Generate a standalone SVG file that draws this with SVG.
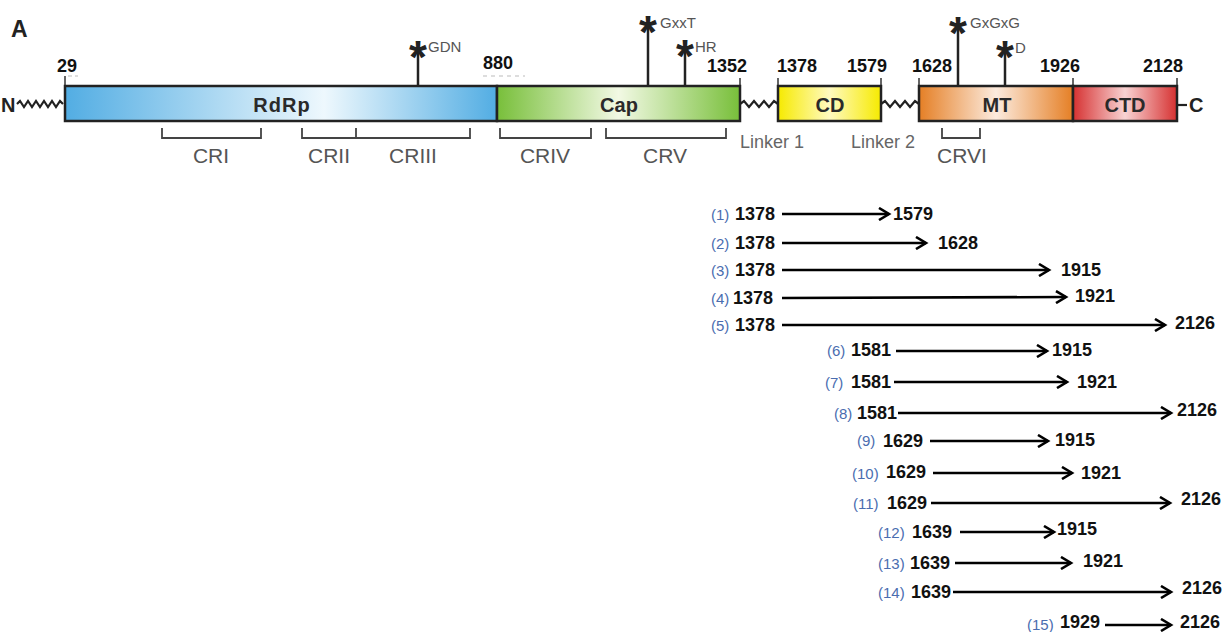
<svg xmlns="http://www.w3.org/2000/svg" width="1228" height="632" viewBox="0 0 1228 632">
<style>
.num{font-family:"Liberation Sans",Arial,sans-serif;font-weight:bold;font-size:18px;fill:#111}
.lab{font-family:"Liberation Sans",Arial,sans-serif;font-size:15px;fill:#4a6db0}
.dom{font-family:"Liberation Sans",Arial,sans-serif;font-weight:bold;font-size:20px;fill:#2a2a2a;text-anchor:middle}
.cr{font-family:"Liberation Sans",Arial,sans-serif;font-size:21px;fill:#555;text-anchor:middle}
.lk{font-family:"Liberation Sans",Arial,sans-serif;font-size:18px;fill:#666}
.mot{font-family:"Liberation Sans",Arial,sans-serif;font-size:15px;fill:#555}
.star{font-family:"Liberation Sans",Arial,sans-serif;font-weight:bold;font-size:46px;fill:#222;text-anchor:middle}
.box{stroke:#222;stroke-width:2.5}
.stem{stroke:#222;stroke-width:2.5}
.tick{stroke:#333;stroke-width:1.5}
.br{fill:none;stroke:#444;stroke-width:1.8}
.zz{fill:none;stroke:#222;stroke-width:2.2}
.arr{stroke:#000;stroke-width:2.6;marker-end:url(#ah)}
</style>
<defs>
<linearGradient id="gR" x1="0" x2="1" y1="0" y2="0"><stop offset="0" stop-color="#52ade3"/><stop offset="0.6" stop-color="#eef8fd"/><stop offset="1" stop-color="#52ade3"/></linearGradient>
<linearGradient id="gC" x1="0" x2="1" y1="0" y2="0"><stop offset="0" stop-color="#78bf3a"/><stop offset="0.5" stop-color="#f2f9e4"/><stop offset="1" stop-color="#78bf3a"/></linearGradient>
<linearGradient id="gD" x1="0" x2="1" y1="0" y2="0"><stop offset="0" stop-color="#f6ea00"/><stop offset="0.5" stop-color="#fffac0"/><stop offset="1" stop-color="#f6ea00"/></linearGradient>
<linearGradient id="gM" x1="0" x2="1" y1="0" y2="0"><stop offset="0" stop-color="#e57f25"/><stop offset="0.5" stop-color="#fcebde"/><stop offset="1" stop-color="#e57f25"/></linearGradient>
<linearGradient id="gT" x1="0" x2="1" y1="0" y2="0"><stop offset="0" stop-color="#d63131"/><stop offset="0.5" stop-color="#f8d3d3"/><stop offset="1" stop-color="#d63131"/></linearGradient>
<marker id="ah" viewBox="0 0 14 14" refX="11" refY="7" markerWidth="14" markerHeight="14" markerUnits="userSpaceOnUse" orient="auto"><path d="M1,1 L11,7 L1,13" fill="none" stroke="#000" stroke-width="2.6"/></marker>
</defs>
<rect width="1228" height="632" fill="#fff"/>
<text x="11" y="37" font-family="Liberation Sans,Arial,sans-serif" font-weight="bold" font-size="23" fill="#222">A</text>
<g id="protein">
<text x="1" y="112" font-family="Liberation Sans,Arial,sans-serif" font-weight="bold" font-size="20" fill="#222">N</text>
<path class="zz" d="M17,104 l3,-3 l4,6 l4,-6 l4,6 l4,-6 l4,6 l4,-6 l4,6 l4,-6 l4,6 l4,-6 l3,3"/>
<path class="zz" d="M740,104 l4,-3 l5,6 l5,-6 l5,6 l5,-6 l5,6 l5,-6 l4,3"/>
<path class="zz" d="M881,104 l4,-3 l5,6 l5,-6 l5,6 l5,-6 l5,6 l5,-6 l4,3"/>
<line x1="1177" y1="105" x2="1187" y2="105" stroke="#222" stroke-width="2.2"/>
<text x="1189" y="112" font-family="Liberation Sans,Arial,sans-serif" font-weight="bold" font-size="20" fill="#222">C</text>
<g class="ticks">
<line class="tick" x1="65" y1="76" x2="65" y2="86"/>
<line x1="68" y1="76" x2="78" y2="76" stroke="#bbb" stroke-width="1" stroke-dasharray="4,3"/>
<line x1="483" y1="76" x2="525" y2="76" stroke="#bbb" stroke-width="1" stroke-dasharray="4,4"/>
<line class="tick" x1="740" y1="78" x2="740" y2="86"/>
<line class="tick" x1="778" y1="78" x2="778" y2="86"/>
<line class="tick" x1="881" y1="78" x2="881" y2="86"/>
<line class="tick" x1="919" y1="78" x2="919" y2="86"/>
<line class="tick" x1="1073" y1="78" x2="1073" y2="86"/>
<line class="tick" x1="1177" y1="78" x2="1177" y2="86"/>
</g>
<g id="positions" class="num" text-anchor="middle">
<text x="67" y="72">29</text>
<text x="498" y="69">880</text>
<text x="727" y="72">1352</text>
<text x="797" y="72">1378</text>
<text x="867" y="72">1579</text>
<text x="932" y="72">1628</text>
<text x="1060" y="72">1926</text>
<text x="1163" y="72">2128</text>
</g>
<g id="motifs">
<line class="stem" x1="418" y1="86" x2="418" y2="50"/>
<text class="star" x="418" y="73">*</text>
<text class="mot" x="428" y="52">GDN</text>
<line class="stem" x1="648" y1="86" x2="648" y2="25"/>
<text class="star" x="648" y="48">*</text>
<text class="mot" x="660" y="28">GxxT</text>
<line class="stem" x1="685" y1="86" x2="685" y2="49"/>
<text class="star" x="685" y="72">*</text>
<text class="mot" x="695" y="52">HR</text>
<line class="stem" x1="958" y1="86" x2="958" y2="26"/>
<text class="star" x="958" y="49">*</text>
<text class="mot" x="970" y="28">GxGxG</text>
<line class="stem" x1="1005" y1="86" x2="1005" y2="50"/>
<text class="star" x="1005" y="73">*</text>
<text class="mot" x="1015" y="53">D</text>
</g>
<g id="RdRp"><rect class="box" x="65" y="86" width="432" height="35" fill="url(#gR)"/><text class="dom" x="282" y="112" letter-spacing="1">RdRp</text></g>
<g id="Cap"><rect class="box" x="497" y="86" width="243" height="35" fill="url(#gC)"/><text class="dom" x="619" y="112">Cap</text></g>
<g id="CD"><rect class="box" x="778" y="86" width="103" height="35" fill="url(#gD)"/><text class="dom" x="830" y="112">CD</text></g>
<g id="MT"><rect class="box" x="919" y="86" width="154" height="35" fill="url(#gM)"/><text class="dom" x="997" y="112">MT</text></g>
<g id="CTD"><rect class="box" x="1073" y="86" width="104" height="35" fill="url(#gT)"/><text class="dom" x="1125" y="112">CTD</text></g>
<g id="regions">
<path class="br" d="M162,128 V138 H261 V128"/>
<path class="br" d="M302,128 V138 H470 V128 M356,128 V138"/>
<path class="br" d="M500,128 V138 H591 V128"/>
<path class="br" d="M606,128 V138 H726 V128"/>
<path class="br" d="M942,128 V138 H980 V128"/>
<text class="cr" x="211" y="163">CRI</text>
<text class="cr" x="329" y="163">CRII</text>
<text class="cr" x="413" y="163">CRIII</text>
<text class="cr" x="545" y="163">CRIV</text>
<text class="cr" x="665" y="163">CRV</text>
<text class="cr" x="962" y="163">CRVI</text>
<text class="lk" x="740" y="148">Linker 1</text>
<text class="lk" x="851" y="148">Linker 2</text>
</g>
</g>
<g id="constructs">
<g id="c1"><text class="lab" x="711" y="220">(1)</text><text class="num" x="735" y="220">1378</text><text class="num" x="893" y="220">1579</text></g>
<g id="c2"><text class="lab" x="711" y="249">(2)</text><text class="num" x="735" y="249">1378</text><text class="num" x="938" y="249">1628</text></g>
<g id="c3"><text class="lab" x="711" y="276">(3)</text><text class="num" x="735" y="276">1378</text><text class="num" x="1061" y="276">1915</text></g>
<g id="c4"><text class="lab" x="711" y="304">(4)</text><text class="num" x="733" y="304">1378</text><text class="num" x="1075" y="302">1921</text></g>
<g id="c5"><text class="lab" x="711" y="331">(5)</text><text class="num" x="735" y="331">1378</text><text class="num" x="1175" y="329">2126</text></g>
<g id="c6"><text class="lab" x="827" y="356">(6)</text><text class="num" x="851" y="356">1581</text><text class="num" x="1052" y="356">1915</text></g>
<g id="c7"><text class="lab" x="825" y="388">(7)</text><text class="num" x="851" y="388">1581</text><text class="num" x="1077" y="388">1921</text></g>
<g id="c8"><text class="lab" x="834" y="419">(8)</text><text class="num" x="857" y="419">1581</text><text class="num" x="1177" y="416">2126</text></g>
<g id="c9"><text class="lab" x="857" y="446">(9)</text><text class="num" x="883" y="447">1629</text><text class="num" x="1055" y="446">1915</text></g>
<g id="c10"><text class="lab" x="852" y="479">(10)</text><text class="num" x="886" y="478">1629</text><text class="num" x="1081" y="479">1921</text></g>
<g id="c11"><text class="lab" x="853" y="509">(11)</text><text class="num" x="887" y="509">1629</text><text class="num" x="1181" y="505">2126</text></g>
<g id="c12"><text class="lab" x="878" y="538">(12)</text><text class="num" x="912" y="538">1639</text><text class="num" x="1057" y="535">1915</text></g>
<g id="c13"><text class="lab" x="878" y="569">(13)</text><text class="num" x="910" y="569">1639</text><text class="num" x="1083" y="567">1921</text></g>
<g id="c14"><text class="lab" x="878" y="598">(14)</text><text class="num" x="911" y="598">1639</text><text class="num" x="1182" y="594">2126</text></g>
<g id="c15"><text class="lab" x="1027" y="630">(15)</text><text class="num" x="1060" y="628">1929</text><text class="num" x="1180" y="628">2126</text></g>
</g>
<g id="connectors">
<line class="arr" x1="782" y1="214" x2="889" y2="214"/>
<line class="arr" x1="782" y1="243" x2="926" y2="243"/>
<line class="arr" x1="782" y1="270" x2="1049" y2="270"/>
<line class="arr" x1="782" y1="298" x2="1066" y2="297"/>
<line class="arr" x1="782" y1="325" x2="1165" y2="325"/>
<line class="arr" x1="896" y1="351" x2="1047" y2="351"/>
<line class="arr" x1="894" y1="382" x2="1067" y2="382"/>
<line class="arr" x1="898" y1="413" x2="1171" y2="413"/>
<line class="arr" x1="930" y1="441" x2="1048" y2="441"/>
<line class="arr" x1="933" y1="473" x2="1072" y2="473"/>
<line class="arr" x1="931" y1="503" x2="1170" y2="503"/>
<line class="arr" x1="960" y1="532" x2="1054" y2="532"/>
<line class="arr" x1="955" y1="563" x2="1071" y2="563"/>
<line class="arr" x1="953" y1="592" x2="1171" y2="592"/>
<line class="arr" x1="1105" y1="625" x2="1171" y2="625"/>
</g>
</svg>
